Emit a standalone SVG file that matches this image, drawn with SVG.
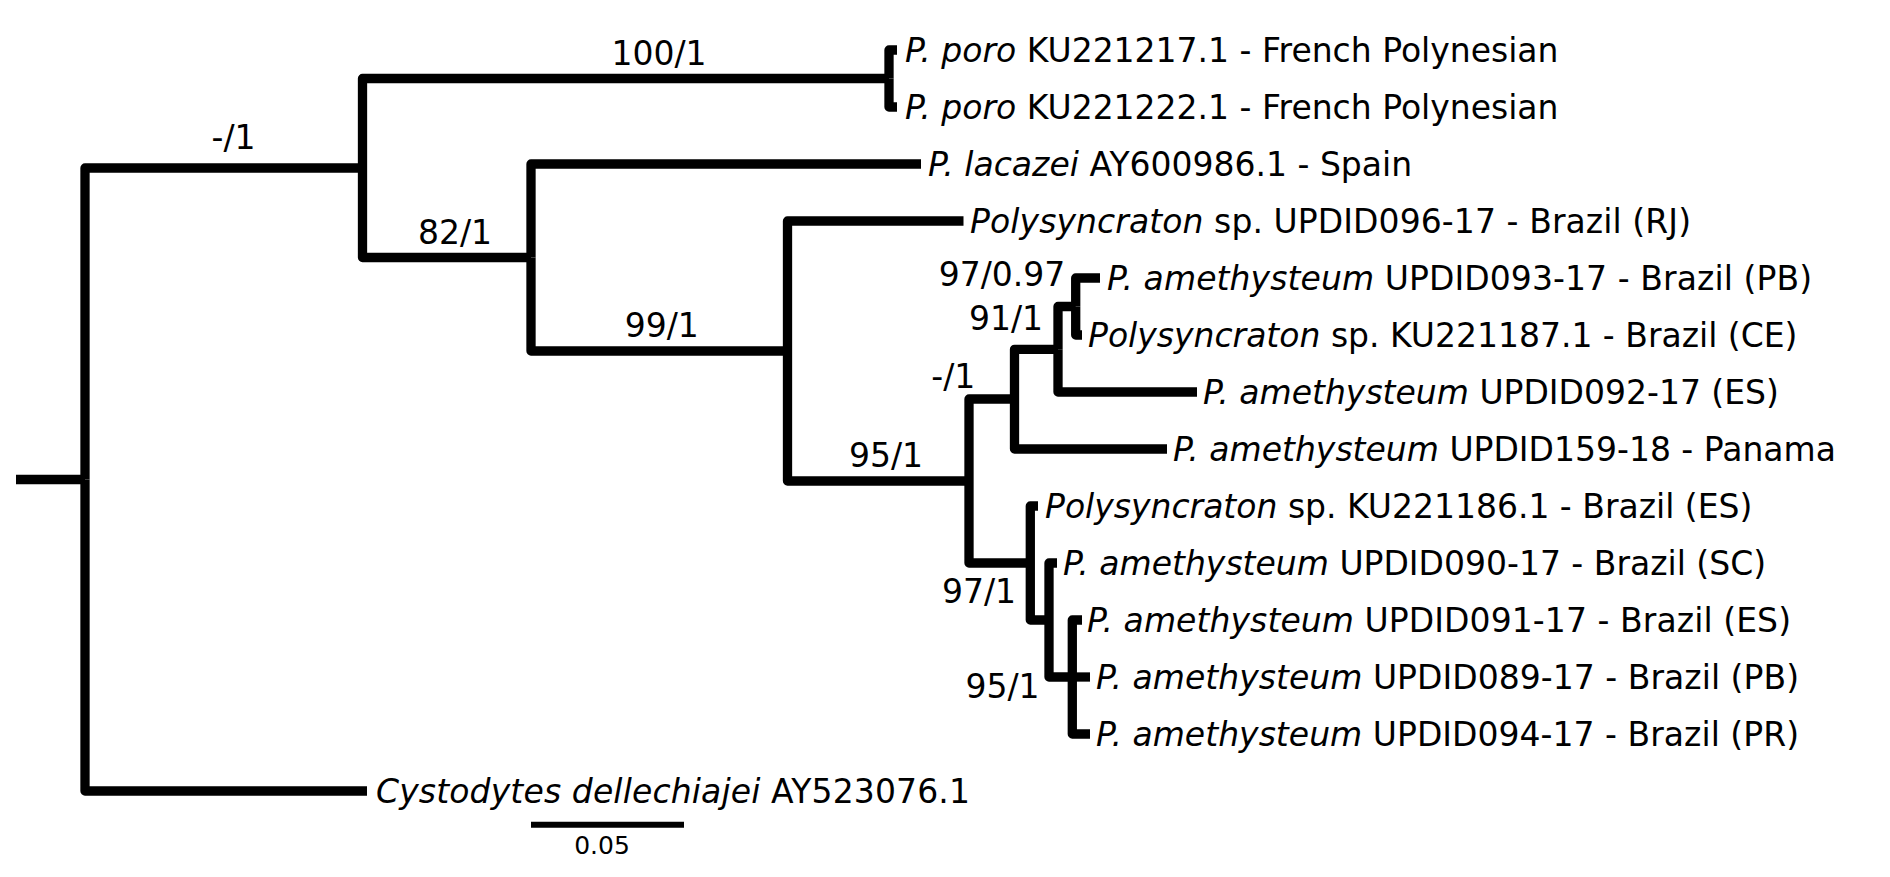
<svg xmlns="http://www.w3.org/2000/svg" width="1890" height="877" viewBox="0 0 1890 877">
<style>
.br{fill:none;stroke:#000;stroke-width:9.3;stroke-linejoin:round;stroke-linecap:butt}
.tip{font-family:"DejaVu Sans",sans-serif;font-size:33px;fill:#000}
.sup{font-family:"DejaVu Sans",sans-serif;font-size:33px;fill:#000;text-anchor:middle}
.it{font-style:italic}
.sc{font-family:"DejaVu Sans",sans-serif;font-size:25px;fill:#000;text-anchor:middle}
</style>
<rect width="1890" height="877" fill="#fff"/>
<g id="connectors">
<path class="br" d="M16 479.5H85"/>
<path class="br" d="M85 479.5V168H362.5"/>
<path class="br" d="M85 479.5V791H367"/>
<path class="br" d="M362.5 168V78.5H889"/>
<path class="br" d="M362.5 168V257.5H531"/>
<path class="br" d="M889 78.5V50H897"/>
<path class="br" d="M889 78.5V107H897"/>
<path class="br" d="M531 257.5V164H921"/>
<path class="br" d="M531 257.5V351H787.5"/>
<path class="br" d="M787.5 351V221H963.5"/>
<path class="br" d="M787.5 351V481H969"/>
<path class="br" d="M969 481V399H1014.5"/>
<path class="br" d="M969 481V563H1030.3"/>
<path class="br" d="M1014.5 399V349.3H1058"/>
<path class="br" d="M1014.5 399V449H1167"/>
<path class="br" d="M1058 349.3V306.5H1075.7"/>
<path class="br" d="M1058 349.3V392H1197"/>
<path class="br" d="M1075.7 306.5V278H1100"/>
<path class="br" d="M1075.7 306.5V335H1082"/>
<path class="br" d="M1030.3 563V506H1038"/>
<path class="br" d="M1030.3 563V620H1049"/>
<path class="br" d="M1049 620V563H1057"/>
<path class="br" d="M1049 620V677H1072.3"/>
<path class="br" d="M1072.3 677V620H1082"/>
<path class="br" d="M1072.3 677H1090"/>
<path class="br" d="M1072.3 677V734H1090"/>
</g>
<g id="tip-poro1"><text class="tip" x="905" y="61.5"><tspan class="it">P. poro</tspan> KU221217.1 - French Polynesian</text></g>
<g id="tip-poro2"><text class="tip" x="905" y="118.5"><tspan class="it">P. poro</tspan> KU221222.1 - French Polynesian</text></g>
<g id="tip-lacazei"><text class="tip" x="928" y="175.5"><tspan class="it">P. lacazei</tspan> AY600986.1 - Spain</text></g>
<g id="tip-rj"><text class="tip" x="970" y="232.5" textLength="721"><tspan class="it">Polysyncraton</tspan> sp. UPDID096-17 - Brazil (RJ)</text></g>
<g id="tip-pb093"><text class="tip" x="1107" y="289.5" textLength="705"><tspan class="it">P. amethysteum</tspan> UPDID093-17 - Brazil (PB)</text></g>
<g id="tip-ce"><text class="tip" x="1088" y="346.5"><tspan class="it">Polysyncraton</tspan> sp. KU221187.1 - Brazil (CE)</text></g>
<g id="tip-es092"><text class="tip" x="1203" y="403.5"><tspan class="it">P. amethysteum</tspan> UPDID092-17 (ES)</text></g>
<g id="tip-panama"><text class="tip" x="1173" y="460.5"><tspan class="it">P. amethysteum</tspan> UPDID159-18 - Panama</text></g>
<g id="tip-es186"><text class="tip" x="1045" y="517.5"><tspan class="it">Polysyncraton</tspan> sp. KU221186.1 - Brazil (ES)</text></g>
<g id="tip-sc"><text class="tip" x="1063" y="574.5"><tspan class="it">P. amethysteum</tspan> UPDID090-17 - Brazil (SC)</text></g>
<g id="tip-es091"><text class="tip" x="1087" y="631.5" textLength="704"><tspan class="it">P. amethysteum</tspan> UPDID091-17 - Brazil (ES)</text></g>
<g id="tip-pb089"><text class="tip" x="1096" y="688.5" textLength="703"><tspan class="it">P. amethysteum</tspan> UPDID089-17 - Brazil (PB)</text></g>
<g id="tip-pr"><text class="tip" x="1096" y="745.5" textLength="703"><tspan class="it">P. amethysteum</tspan> UPDID094-17 - Brazil (PR)</text></g>
<g id="tip-cystodytes"><text class="tip" x="376" y="802.5" textLength="594"><tspan class="it">Cystodytes dellechiajei</tspan> AY523076.1</text></g>
<g id="node-a"><text class="sup" x="233.5" y="149.3">-/1</text></g>
<g id="node-poro"><text class="sup" x="659" y="65">100/1</text></g>
<g id="node-b"><text class="sup" x="455" y="243.5">82/1</text></g>
<g id="node-c"><text class="sup" x="661.7" y="336.7">99/1</text></g>
<g id="node-d"><text class="sup" x="886" y="466.7">95/1</text></g>
<g id="node-e"><text class="sup" x="953.3" y="388.3">-/1</text></g>
<g id="node-f"><text class="sup" x="1006" y="330">91/1</text></g>
<g id="node-g"><text class="sup" x="1002" y="286">97/0.97</text></g>
<g id="node-h"><text class="sup" x="979" y="603.3">97/1</text></g>
<g id="node-i"><text class="sup" x="1002.5" y="698.3">95/1</text></g>
<g id="scale-bar">
<path d="M531 824.7H684" stroke="#000" stroke-width="6" fill="none"/>
<text class="sc" x="602" y="854">0.05</text>
</g>
</svg>
